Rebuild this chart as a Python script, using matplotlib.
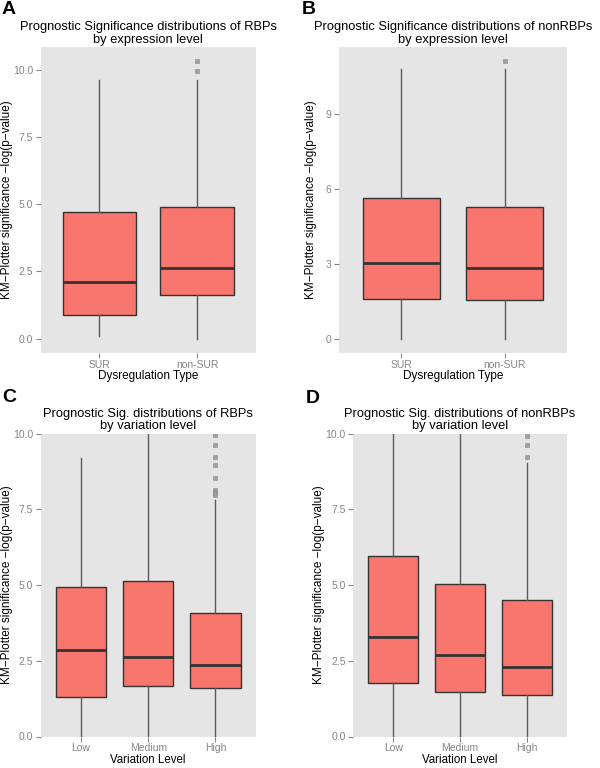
import matplotlib
matplotlib.use("Agg")
import matplotlib.pyplot as plt

plt.rcParams['font.family'] = ['Liberation Sans', 'DejaVu Sans']

# ---- data ----
cats_ab = ["SUR", "non-SUR"]
cats_cd = ["Low", "Medium", "High"]

# Panel A: RBPs by expression level
a_whislo = [0.09, 0.0]
a_q1 = [0.87, 1.62]
a_med = [2.12, 2.61]
a_q3 = [4.70, 4.89]
a_whishi = [9.62, 9.62]
a_fliers = [[], [9.93, 10.32]]

# Panel B: nonRBPs by expression level
b_whislo = [0.0, 0.0]
b_q1 = [1.59, 1.56]
b_med = [3.04, 2.82]
b_q3 = [5.65, 5.30]
b_whishi = [10.80, 10.80]
b_fliers = [[], [11.15]]

# Panel C: RBPs by variation level
c_whislo = [0.0, 0.0, 0.0]
c_q1 = [1.29, 1.67, 1.59]
c_med = [2.84, 2.64, 2.35]
c_q3 = [4.95, 5.13, 4.08]
c_whishi = [9.20, 10.6, 7.82]
c_fliers = [[], [], [9.95, 9.62, 9.24, 8.96, 8.52, 8.15, 8.08, 8.02, 7.97]]

# Panel D: nonRBPs by variation level
d_whislo = [0.0, 0.0, 0.0]
d_q1 = [1.75, 1.46, 1.38]
d_med = [3.28, 2.69, 2.30]
d_q3 = [5.96, 5.04, 4.50]
d_whishi = [10.6, 10.6, 9.04]
d_fliers = [[], [], [9.91, 9.62, 9.23]]

a_yticks = [0.0, 2.5, 5.0, 7.5, 10.0]
a_yticklabels = ["0.0", "2.5", "5.0", "7.5", "10.0"]
b_yticks = [0, 3, 6, 9]
b_yticklabels = ["0", "3", "6", "9"]
cd_yticks = [0.0, 2.5, 5.0, 7.5, 10.0]
cd_yticklabels = ["0.0", "2.5", "5.0", "7.5", "10.0"]

titles = [
    "Prognostic Significance distributions of RBPs\nby expression level",
    "Prognostic Significance distributions of nonRBPs\nby expression level",
    "Prognostic Sig. distributions of RBPs\nby variation level",
    "Prognostic Sig. distributions of nonRBPs\nby variation level",
]
xlabels = ["Dysregulation Type", "Dysregulation Type", "Variation Level", "Variation Level"]
ylabel = "KM\u2212Plotter significance \u2212log(p\u2212value)"
letters = ["A", "B", "C", "D"]

FILL = "#F8766D"
BG = "#E5E5E5"
TICKC = "#858585"

fig = plt.figure(figsize=(6, 7.68), dpi=100)
W, H = 600.0, 768.0

def make_ax(l, r, t, b):
    return fig.add_axes([l / W, (H - b) / H, (r - l) / W, (b - t) / H])

axes = [
    make_ax(40.7, 255.7, 46.7, 352.7),
    make_ax(339.3, 566.7, 46.7, 352.7),
    make_ax(40.7, 255.7, 433.5, 736.5),
    make_ax(353.3, 566.7, 433.5, 736.5),
]
ylabel_x = [-0.127, -0.099, -0.127, -0.133]
xlabel_pad = [-0.5, -0.5, 0.3, 0.3]
xlabel_size = [8.5, 8.5, 8.3, 8.3]
xtick_pad = [2, 2, 1.5, 1.5]

def build(cats, lo, q1, med, q3, hi, fl):
    stats = []
    for i, c in enumerate(cats):
        stats.append(dict(label=c, whislo=lo[i], q1=q1[i], med=med[i], q3=q3[i],
                          whishi=hi[i], fliers=fl[i]))
    return stats

panels = [
    (build(cats_ab, a_whislo, a_q1, a_med, a_q3, a_whishi, a_fliers), (-0.52, 10.85), a_yticks, a_yticklabels),
    (build(cats_ab, b_whislo, b_q1, b_med, b_q3, b_whishi, b_fliers), (-0.56, 11.71), b_yticks, b_yticklabels),
    (build(cats_cd, c_whislo, c_q1, c_med, c_q3, c_whishi, c_fliers), (0.0, 10.0), cd_yticks, cd_yticklabels),
    (build(cats_cd, d_whislo, d_q1, d_med, d_q3, d_whishi, d_fliers), (0.0, 10.0), cd_yticks, cd_yticklabels),
]

for k, (ax, (stats, ylim, yt, ytl)) in enumerate(zip(axes, panels)):
    n = len(stats)
    pos = list(range(1, n + 1))
    ax.set_facecolor(BG)
    ax.bxp(stats, positions=pos, widths=0.75, patch_artist=True, showcaps=False,
           boxprops=dict(facecolor=FILL, edgecolor="#333333", linewidth=1.0),
           whiskerprops=dict(color="#5A5A5A", linewidth=1.0),
           medianprops=dict(color="#333333", linewidth=2.0),
           flierprops=dict(marker="s", markersize=2.6, markerfacecolor="#A0A0A0",
                           markeredgecolor="#8A8A8A", markeredgewidth=0.4, linestyle="none"))
    ax.set_xlim(0.4, n + 0.6)
    ax.set_ylim(*ylim)
    ax.set_yticks(yt)
    ax.set_yticklabels(ytl)
    ax.set_xticks(pos)
    ax.set_xticklabels([s["label"] for s in stats])
    for sp in ax.spines.values():
        sp.set_visible(False)
    ax.tick_params(axis="both", colors=TICKC, labelcolor=TICKC, labelsize=7.5,
                   length=3.5, width=0.8, pad=2)
    ax.tick_params(axis="x", pad=xtick_pad[k])
    ax.grid(False)
    ax.set_title(titles[k], fontsize=9.3, color="black", pad=3, linespacing=1.05)
    ax.set_xlabel(xlabels[k], fontsize=xlabel_size[k], color="black", labelpad=xlabel_pad[k])
    ax.set_ylabel(ylabel, fontsize=8.5, color="black")
    ax.yaxis.set_label_coords(ylabel_x[k], 0.5)

# panel letters
fig.text(2 / W, 1 - 1 / H, "A", fontsize=14, fontweight="bold", va="top", ha="left")
fig.text(302 / W, 1 - 1 / H, "B", fontsize=14, fontweight="bold", va="top", ha="left")
fig.text(2 / W, 1 - 389 / H, "C", fontsize=14, fontweight="bold", va="top", ha="left")
fig.text(306 / W, 1 - 390 / H, "D", fontsize=14, fontweight="bold", va="top", ha="left")

fig.savefig("out.png", dpi=100)
